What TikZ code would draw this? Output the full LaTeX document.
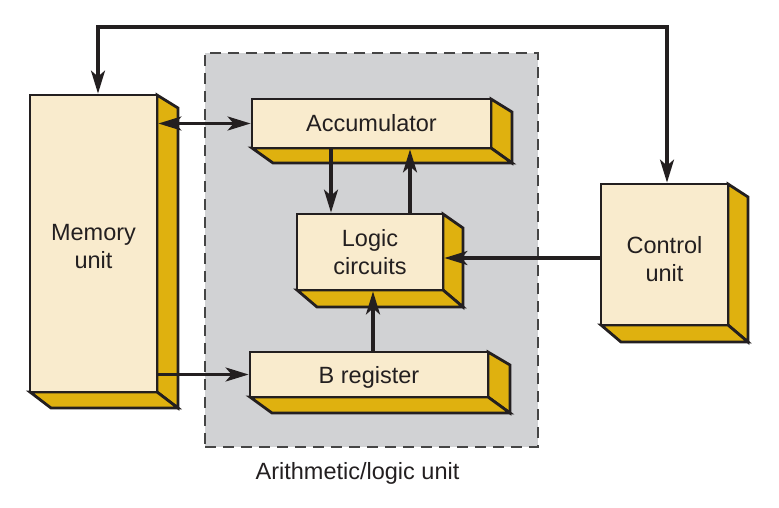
\documentclass[tikz,border=0pt]{standalone}
\usepackage{fontspec}
\setmainfont{Liberation Sans}
\usetikzlibrary{arrows.meta,calc}
\definecolor{cream}{HTML}{F9EBCD}
\definecolor{gold}{HTML}{DFB10F}
\definecolor{ink}{HTML}{231F20}
\definecolor{alugray}{HTML}{D1D2D4}
\definecolor{dashgray}{HTML}{454545}
\tikzset{
  sideface/.style={fill=gold, draw=ink, line width=2.8pt, line join=miter},
  frontface/.style={fill=cream, draw=ink, line width=2.8pt, inner sep=0pt},
  blocktext/.style={align=center, text=ink, font=\fontsize{23.5}{28}\selectfont, inner sep=0pt},
  tipstyle/.tip={Stealth[length=23pt,width=14pt,inset=6pt]},
  conn/.style={draw=ink, line width=3.2pt, -tipstyle},
  conn2/.style={draw=ink, line width=3.2pt, tipstyle-tipstyle},
  alubox/.style={draw=dashgray, dash pattern=on 11pt off 7pt, line width=2.2pt, fill=alugray},
}
\def\tshift{0pt}
\newcommand\blockbox[9]{%
  \filldraw[sideface] (#4,#3) -- ++(#6,#7) -- ({#4+#6},{#5+#8}) -- (#4,#5) -- cycle;
  \filldraw[sideface] (#2,#5) -- ++(#6,#8) -- ({#4+#6},{#5+#8}) -- (#4,#5) -- cycle;
  \pgfmathsetmacro\bw{#4-#2}\pgfmathsetmacro\bh{#5-#3}%
  \node[frontface, minimum width=\bw pt, minimum height=\bh pt] (#1) at ({(#2+#4)/2},{(#3+#5)/2}) {};
  \node[blocktext, yshift=\tshift] (#1-text) at (#1.center) {#9};
}
\begin{document}
\begin{tikzpicture}[x=1pt,y=-1pt]
\useasboundingbox (0,0) rectangle (779,507);
% ALU region
\node[alubox, minimum width=333pt, minimum height=394pt, inner sep=0pt] (alu) at (371.5,250) {};
\node[font=\fontsize{23.5}{28}\selectfont, text=ink, anchor=base] (alulabel) at (357.5,479) {Arithmetic/logic unit};
% blocks
\def\tshift{-3pt}
\blockbox{mem}{30}{95}{157}{392}{21}{13}{16}{Memory\\unit}
\def\tshift{0pt}
\blockbox{acc}{252}{99}{491}{148}{21}{13}{15}{Accumulator}
\blockbox{logic}{297}{214}{443}{290}{20}{14}{17}{Logic\\circuits}
\def\tshift{-3pt}
\blockbox{breg}{250}{352}{488}{397}{22}{13}{16}{B register}
\def\tshift{-5pt}
\blockbox{ctrl}{601}{184}{728}{325}{20}{13}{17}{Control\\unit}
% helper coordinates
\coordinate (topbar) at (0,27);
\coordinate (m1) at ([xshift=4.5pt]mem.north);
\coordinate (c2) at ([xshift=2.5pt]ctrl.north);
\coordinate (a1) at ([xshift=-40.5pt]acc.south);
\coordinate (l1) at ([xshift=40pt]logic.north);
\coordinate (b1) at ([xshift=4pt]breg.north);
\coordinate (k1) at ([yshift=-3.5pt]ctrl.west);
% connectors
\draw[conn2] (m1) -- (m1 |- topbar) -- (c2 |- topbar) -- (c2);
\draw[conn2] (mem.east |- acc.west) -- (acc.west);
\draw[conn] (mem.east |- breg.west) -- (breg.west);
\draw[conn] (a1) -- (a1 |- logic.north);
\draw[conn] (l1) -- (l1 |- acc.south);
\draw[conn] (b1) -- (b1 |- logic.south);
\draw[conn] (k1) -- (k1 -| logic.east);
\end{tikzpicture}
\end{document}
